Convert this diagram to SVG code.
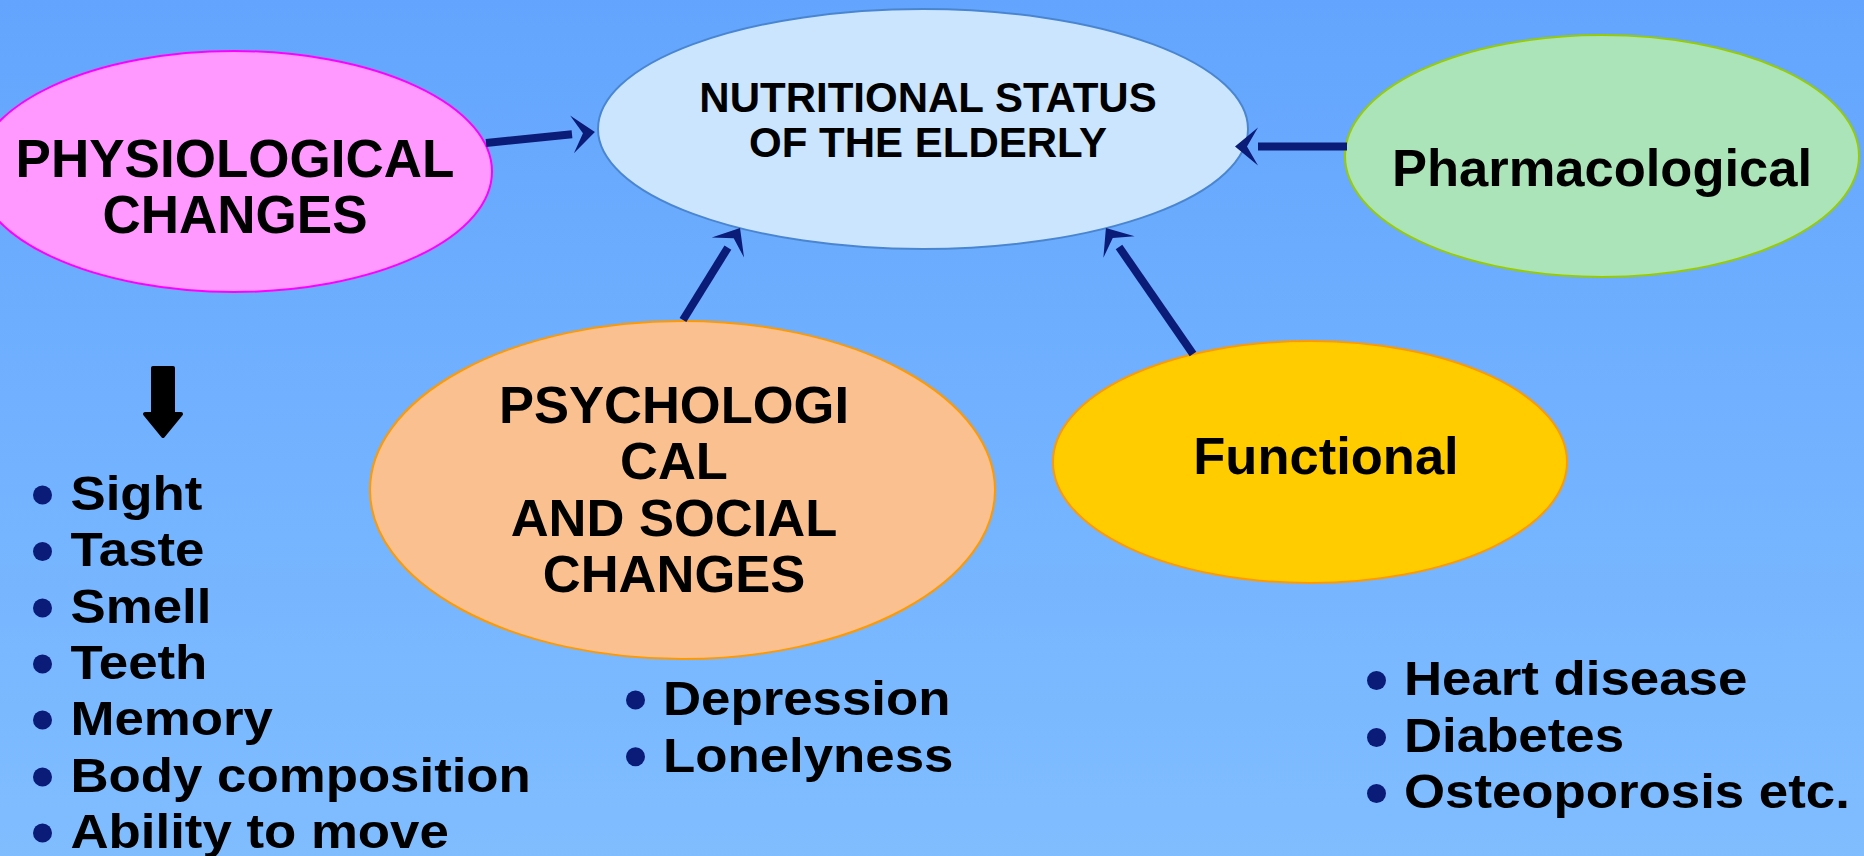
<svg xmlns="http://www.w3.org/2000/svg" width="1864" height="856" viewBox="0 0 1864 856">
<defs>
<linearGradient id="bg" x1="0" y1="0" x2="0" y2="1">
<stop offset="0" stop-color="#63a5fe"/>
<stop offset="1" stop-color="#80bdff"/>
</linearGradient>
<marker id="ah" markerUnits="userSpaceOnUse" markerWidth="60" markerHeight="60" refX="0" refY="0" viewBox="-30 -30 60 60" orient="auto" overflow="visible">
<path d="M0,-19 L23,0 L0,19 L11,0 Z" fill="#0b1b78"/>
</marker>
<style>
.t{font-family:"Liberation Sans",Arial,sans-serif;font-weight:bold;fill:#000;}
.big{font-size:52.5px;text-anchor:middle;}
.mid{font-size:42px;text-anchor:middle;}
.li{font-size:48px;}
.bul{fill:#0b1b78;}
.con{stroke:#0b1b78;stroke-width:8;fill:none;marker-end:url(#ah);}
</style>
</defs>
<rect x="0" y="0" width="1864" height="856" fill="url(#bg)"/>

<g id="physiological">
<ellipse cx="234" cy="171.5" rx="258" ry="120.5" fill="#ff99ff" stroke="#ff00ff" stroke-width="2"/>
<text class="t big" x="235" y="177" style="font-size:53px">PHYSIOLOGICAL</text>
<text class="t big" x="235" y="233" style="font-size:53px">CHANGES</text>
</g>

<g id="nutritional">
<ellipse cx="923" cy="129" rx="325" ry="120" fill="#cce5ff" stroke="#4a86d0" stroke-width="2"/>
<text class="t mid" x="928" y="112">NUTRITIONAL STATUS</text>
<text class="t mid" x="928" y="157">OF THE ELDERLY</text>
</g>

<g id="pharmacological">
<ellipse cx="1602" cy="156" rx="257" ry="121" fill="#aae4b8" stroke="#99cc00" stroke-width="2"/>
<text class="t big" x="1602" y="186">Pharmacological</text>
</g>

<g id="psychological">
<ellipse cx="682.5" cy="490" rx="312.5" ry="169" fill="#fac090" stroke="#ff9900" stroke-width="2"/>
<text class="t big" x="674" y="423">PSYCHOLOGI</text>
<text class="t big" x="674" y="479">CAL</text>
<text class="t big" x="674" y="536">AND SOCIAL</text>
<text class="t big" x="674" y="592">CHANGES</text>
</g>

<g id="functional">
<ellipse cx="1310" cy="462" rx="257" ry="121" fill="#ffcc00" stroke="#ff9900" stroke-width="2"/>
<text class="t big" x="1326" y="474">Functional</text>
</g>

<g id="connectors">
<line class="con" x1="486" y1="143" x2="572" y2="134.3"/>
<line class="con" x1="1347" y1="146.5" x2="1258" y2="146.5"/>
<line class="con" x1="683" y1="320" x2="727.9" y2="247.6"/>
<line class="con" x1="1193" y1="354" x2="1119" y2="247"/>
</g>

<g id="down-arrow">
<path d="M153,368 L173,368 L173,414 L181,414 L163,436 L145,414 L153,414 Z" fill="#000" stroke="#000" stroke-width="4" stroke-linejoin="round"/>
</g>

<g id="list-physiological">
<circle class="bul" cx="42.5" cy="495" r="9.5"/>
<circle class="bul" cx="42.5" cy="551.5" r="9.5"/>
<circle class="bul" cx="42.5" cy="608" r="9.5"/>
<circle class="bul" cx="42.5" cy="664" r="9.5"/>
<circle class="bul" cx="42.5" cy="720" r="9.5"/>
<circle class="bul" cx="42.5" cy="777" r="9.5"/>
<circle class="bul" cx="42.5" cy="833" r="9.5"/>
<g transform="translate(70.5,0) scale(1.1,1)">
<text class="t li" x="0" y="510">Sight</text>
<text class="t li" x="0" y="566.5">Taste</text>
<text class="t li" x="0" y="623">Smell</text>
<text class="t li" x="0" y="679">Teeth</text>
<text class="t li" x="0" y="735">Memory</text>
<text class="t li" x="0" y="792">Body composition</text>
<text class="t li" x="0" y="848">Ability to move</text>
</g>
</g>

<g id="list-psychological">
<circle class="bul" cx="635.5" cy="700" r="9.5"/>
<circle class="bul" cx="635.5" cy="756.7" r="9.5"/>
<g transform="translate(663,0) scale(1.1,1)">
<text class="t li" x="0" y="715">Depression</text>
<text class="t li" x="0" y="771.7">Lonelyness</text>
</g>
</g>

<g id="list-functional">
<circle class="bul" cx="1376.5" cy="680.5" r="9.5"/>
<circle class="bul" cx="1376.5" cy="737.5" r="9.5"/>
<circle class="bul" cx="1376.5" cy="793.5" r="9.5"/>
<g transform="translate(1404,0) scale(1.1,1)">
<text class="t li" x="0" y="695.5">Heart disease</text>
<text class="t li" x="0" y="752.5">Diabetes</text>
<text class="t li" x="0" y="808.5">Osteoporosis etc.</text>
</g>
</g>
</svg>
